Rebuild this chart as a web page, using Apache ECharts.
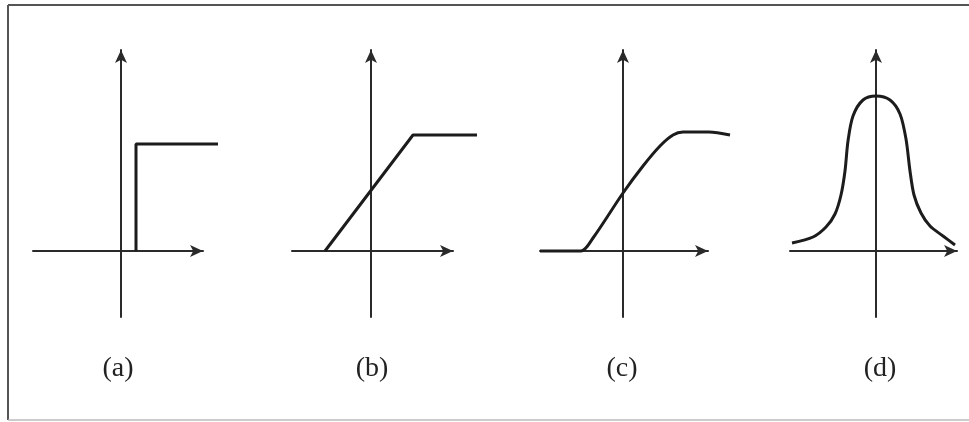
<!DOCTYPE html>
<html>
<head>
<meta charset="utf-8">
<script src="https://cdn.jsdelivr.net/npm/echarts@6/dist/echarts.min.js"></script>
<style>
  html, body { margin: 0; padding: 0; background: #fff; }
  #main { width: 969px; height: 422px; }
</style>
</head>
<body>
<div id="main"></div>
<script>
// panel labels
var panelNames = ['(a)', '(b)', '(c)', '(d)'];

// axis extents for each panel (x: left end / arrow tip, y: bottom / arrow tip)
var xMin = [-0.88, -0.79, -0.83, -0.86];
var xMax = [0.82, 0.82, 0.85, 0.81];
var yMin = -0.66;
var yMax = 2.01;

// (a) step function
var stepData = [[0.15, 0], [0.15, 1.07], [0.97, 1.07]];
// (b) ramp with saturation
var rampData = [[-0.46, 0], [0.42, 1.16], [1.06, 1.16]];
// (c) smooth saturating curve
var sigmoidData = [
  [-0.83, 0], [-0.42, 0], [-0.3, 0.13], [0, 0.58], [0.20, 0.85],
  [0.37, 1.05], [0.50, 1.16], [0.60, 1.19], [0.86, 1.19], [1.07, 1.16]
];
// (d) bell curve
var bellData = [
  [-0.84, 0.08], [-0.63, 0.14], [-0.5, 0.24], [-0.41, 0.37], [-0.35, 0.56],
  [-0.31, 0.8], [-0.28, 1.1], [-0.23, 1.35], [-0.13, 1.51], [0, 1.55],
  [0.14, 1.51], [0.24, 1.37], [0.3, 1.12], [0.34, 0.8], [0.38, 0.56],
  [0.45, 0.38], [0.54, 0.25], [0.67, 0.15], [0.79, 0.06]
];

var seriesData = [stepData, rampData, sigmoidData, bellData];
var smoothness = [false, false, 0.3, 0.3];

var gridLeft = [33, 292, 540, 790];
var gridWidth = [170, 161, 168, 167];
var labelX = [118, 372, 622, 880];
var extra = [0.3, 0.3, 0.3, 0];   // room for curves running past the arrow tip

var chart = echarts.init(document.getElementById('main'));

var grids = [], xAxes = [], yAxes = [], series = [], texts = [];
var axisColor = '#2a2a2a';
var curveColor = '#1c1c1c';

function hiddenBits() {
  return { axisTick: { show: false }, axisLabel: { show: false }, splitLine: { show: false } };
}

for (var i = 0; i < 4; i++) {
  // grid that carries the visible axes
  grids.push({ left: gridLeft[i], width: gridWidth[i], top: 50, height: 267 });
  xAxes.push(Object.assign({
    type: 'value', gridIndex: 2 * i, min: xMin[i], max: xMax[i],
    axisLine: { onZero: true, symbol: ['none', 'arrow'], symbolSize: [9, 13],
      lineStyle: { color: axisColor, width: 2 } }
  }, hiddenBits()));
  yAxes.push(Object.assign({
    type: 'value', gridIndex: 2 * i, min: yMin, max: yMax,
    axisLine: { onZero: true, symbol: ['none', 'arrow'], symbolSize: [9, 13],
      lineStyle: { color: axisColor, width: 2 } }
  }, hiddenBits()));
  // same scale, a little wider, for the curve
  grids.push({ left: gridLeft[i], width: gridWidth[i] + extra[i] * 100, top: 50, height: 267 });
  xAxes.push({ type: 'value', gridIndex: 2 * i + 1, min: xMin[i], max: xMax[i] + extra[i], show: false });
  yAxes.push({ type: 'value', gridIndex: 2 * i + 1, min: yMin, max: yMax, show: false });

  series.push({
    type: 'line', xAxisIndex: 2 * i + 1, yAxisIndex: 2 * i + 1,
    data: seriesData[i], smooth: smoothness[i], showSymbol: false, clip: false,
    lineStyle: { color: curveColor, width: 3 }, silent: true
  });
  texts.push({
    type: 'text', x: labelX[i], y: 369,
    style: { text: panelNames[i], fontFamily: 'Liberation Serif', fontSize: 28,
      fill: '#222', align: 'center', verticalAlign: 'middle' }
  });
}

chart.setOption({
  animation: false,
  grid: grids,
  xAxis: xAxes,
  yAxis: yAxes,
  series: series,
  graphic: texts.concat([
    { type: 'line', shape: { x1: 8, y1: 5, x2: 969, y2: 5 }, style: { stroke: '#555', lineWidth: 2 } },
    { type: 'line', shape: { x1: 8, y1: 5, x2: 8, y2: 420 }, style: { stroke: '#555', lineWidth: 2 } },
    { type: 'line', shape: { x1: 8, y1: 420, x2: 969, y2: 420 }, style: { stroke: '#bbb', lineWidth: 1.5 } }
  ])
});
</script>
</body>
</html>
